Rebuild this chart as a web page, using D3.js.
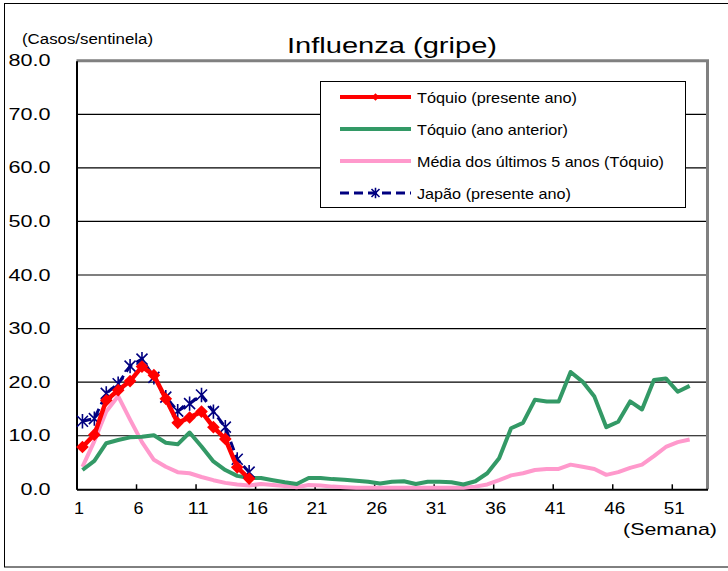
<!DOCTYPE html>
<html><head><meta charset="utf-8">
<script src="https://cdn.jsdelivr.net/npm/d3@7"></script>
<style>
html,body{margin:0;padding:0;background:#fff;}
text{font-family:"Liberation Sans",Arial,sans-serif;fill:#000;}
</style></head>
<body>
<svg id="chart" width="728" height="571"></svg>
<script>
// ---- data ----
const weeks = d3.range(1, 53);
const tickWeeks = [1, 6, 11, 16, 21, 26, 31, 36, 41, 46, 51];
const yTicks = [0, 10, 20, 30, 40, 50, 60, 70, 80];
const seriesNames = ["Tóquio (presente ano)", "Tóquio (ano anterior)", "Média dos últimos 5 anos (Tóquio)", "Japão (presente ano)"];
const tokyoCurrent = [7.9, 10.2, 16.6, 18.5, 20.2, 22.9, 21.3, 16.9, 12.4, 13.4, 14.5, 11.6, 9.4, 4.1, 2.0];
const japanCurrent = [12.7, 13.2, 17.9, 19.7, 23.0, 24.3, 20.9, 17.2, 14.6, 16.0, 17.6, 14.5, 11.6, 5.6, 3.2];
const tokyoPrev = [3.6, 5.3, 8.6, 9.2, 9.7, 9.8, 10.1, 8.7, 8.4, 10.6, 8.0, 5.2, 3.6, 2.5, 2.1, 2.1, 1.7, 1.3, 1.0, 2.1,
  2.1, 1.9, 1.8, 1.6, 1.4, 1.1, 1.4, 1.5, 1.0, 1.4, 1.4, 1.3, 0.9, 1.5, 3.0, 5.8, 11.4, 12.4, 16.7, 16.4,
  16.4, 21.9, 20.1, 17.3, 11.6, 12.6, 16.4, 14.9, 20.4, 20.7, 18.2, 19.3];
const avg5y = [4.2, 9.0, 14.5, 17.4, 13.0, 8.8, 5.5, 4.2, 3.2, 3.0, 2.3, 1.7, 1.2, 0.9, 0.7, 1.0, 0.8, 0.6, 0.4, 0.8,
  0.7, 0.5, 0.4, 0.3, 0.3, 0.3, 0.3, 0.3, 0.3, 0.3, 0.3, 0.3, 0.3, 0.5, 0.9, 1.7, 2.6, 3.0, 3.6, 3.8,
  3.8, 4.6, 4.2, 3.8, 2.7, 3.2, 4.0, 4.6, 6.2, 7.9, 8.8, 9.3];

// ---- layout ----
const svg = d3.select("#chart");
const L = 76.5, R = 707.5, T = 60.7, B = 489.3;
const x = d3.scaleLinear().domain([0.5, 53.5]).range([L, R]);
const y = d3.scaleLinear().domain([0, 80]).range([B, T]);

function fitText(sel, w) {
  sel.attr("textLength", w).attr("lengthAdjust", "spacingAndGlyphs");
}

// outer border
svg.append("rect").attr("x", 4.5).attr("y", 3.5).attr("width", 760).attr("height", 563.5)
  .attr("fill", "none").attr("stroke", "#000").attr("stroke-width", 1);

// gridlines
svg.append("g").selectAll("line").data(yTicks.filter(d => d > 0 && d < 80)).join("line")
  .attr("x1", L).attr("x2", R).attr("y1", d => y(d)).attr("y2", d => y(d))
  .attr("stroke", "#000").attr("stroke-width", 1.2);

// frame top/right (gray)
svg.append("path").attr("d", `M${L},${T}H${R}V${B}`).attr("fill", "none")
  .attr("stroke", "#808080").attr("stroke-width", 3);

// y axis
const yAxis = svg.append("g").attr("transform", `translate(${L},0)`)
  .call(d3.axisLeft(y).tickValues(yTicks).tickSize(0).tickPadding(26).tickFormat(d3.format(".1f")));
yAxis.select(".domain").attr("stroke", "#000").attr("stroke-width", 2);
yAxis.selectAll("text").attr("font-size", 16).attr("font-family", "Liberation Sans, Arial")
  .each(function(d) { fitText(d3.select(this), d === 0 ? 30 : 42); });

// x axis
const xAxis = svg.append("g").attr("transform", `translate(0,${B})`)
  .call(d3.axisBottom(x).tickValues(tickWeeks.map(w => w - 0.5)).tickSizeInner(-5).tickSizeOuter(0)
    .tickPadding(20).tickFormat(d => String(d + 0.5)));
xAxis.select(".domain").attr("stroke", "#000").attr("stroke-width", 2);
xAxis.selectAll(".tick line").attr("stroke", "#000").attr("stroke-width", 1.5);
xAxis.selectAll("text").attr("font-size", 16).attr("font-family", "Liberation Sans, Arial")
  .attr("dy", "0.3em").attr("x", 2)
  .each(function(d) { fitText(d3.select(this), String(d + 0.5).length > 1 ? 21 : 10); });

// series lines
const line = d3.line().defined(d => d[1] != null).x(d => x(d[0])).y(d => y(d[1]));
const toPts = arr => arr.map((v, i) => [weeks[i], v]);

svg.append("path").datum(toPts(avg5y)).attr("d", line).attr("fill", "none")
  .attr("stroke", "#FF99CC").attr("stroke-width", 4).attr("stroke-linejoin", "round");
svg.append("path").datum(toPts(tokyoPrev)).attr("d", line).attr("fill", "none")
  .attr("stroke", "#339966").attr("stroke-width", 4).attr("stroke-linejoin", "round");
svg.append("path").datum(toPts(japanCurrent)).attr("d", line).attr("fill", "none")
  .attr("stroke", "#000080").attr("stroke-width", 3).attr("stroke-dasharray", "9,5");

const starPath = s => `M${-s},${-s}L${s},${s}M${-s},${s}L${s},${-s}M0,${-s * 1.3}L0,${s * 1.3}`;
svg.append("g").selectAll("path").data(toPts(japanCurrent)).join("path")
  .attr("transform", d => `translate(${x(d[0])},${y(d[1])})`)
  .attr("d", starPath(5.5)).attr("stroke", "#000080").attr("stroke-width", 1.6).attr("fill", "none");

svg.append("path").datum(toPts(tokyoCurrent)).attr("d", line).attr("fill", "none")
  .attr("stroke", "#FF0000").attr("stroke-width", 4.5).attr("stroke-linejoin", "round");
const diamond = d3.symbol(d3.symbolSquare, 80)();
svg.append("g").selectAll("path").data(toPts(tokyoCurrent)).join("path")
  .attr("transform", d => `translate(${x(d[0])},${y(d[1])}) rotate(45)`)
  .attr("d", diamond).attr("fill", "#FF0000");

// title & axis titles
svg.append("text").attr("x", 392).attr("y", 53).attr("text-anchor", "middle").attr("font-size", 22)
  .text("Influenza (gripe)").call(fitText, 210);
svg.append("text").attr("x", 22).attr("y", 44).attr("font-size", 15.5)
  .text("(Casos/sentinela)").call(fitText, 131);
svg.append("text").attr("x", 623).attr("y", 535).attr("font-size", 17)
  .text("(Semana)").call(fitText, 94);

// legend
const lg = svg.append("g");
lg.append("rect").attr("x", 320.5).attr("y", 81.5).attr("width", 365).attr("height", 126)
  .attr("fill", "#fff").attr("stroke", "#000").attr("stroke-width", 1);
const rowY = [97, 129, 161, 193];
const textW = [160, 151, 247, 154];
const sx1 = 340, sx2 = 411, smid = (sx1 + sx2) / 2;
// red
lg.append("line").attr("x1", sx1).attr("x2", sx2).attr("y1", rowY[0]).attr("y2", rowY[0])
  .attr("stroke", "#FF0000").attr("stroke-width", 4);
lg.append("path").attr("transform", `translate(${smid},${rowY[0]}) rotate(45)`)
  .attr("d", d3.symbol(d3.symbolSquare, 30)()).attr("fill", "#FF0000");
// green
lg.append("line").attr("x1", sx1).attr("x2", sx2).attr("y1", rowY[1]).attr("y2", rowY[1])
  .attr("stroke", "#339966").attr("stroke-width", 4);
// pink
lg.append("line").attr("x1", sx1).attr("x2", sx2).attr("y1", rowY[2]).attr("y2", rowY[2])
  .attr("stroke", "#FF99CC").attr("stroke-width", 4);
// navy dashed
lg.append("line").attr("x1", sx1).attr("x2", sx2).attr("y1", rowY[3]).attr("y2", rowY[3])
  .attr("stroke", "#000080").attr("stroke-width", 3).attr("stroke-dasharray", "9,5");
lg.append("path").attr("transform", `translate(${smid},${rowY[3]})`)
  .attr("d", starPath(4)).attr("stroke", "#000080").attr("stroke-width", 1.6).attr("fill", "none");

lg.selectAll("text.lt").data(seriesNames).join("text").attr("class", "lt")
  .attr("x", 417).attr("y", (d, i) => rowY[i] + 5.5).attr("font-size", 15)
  .text(d => d).each(function(d, i) { fitText(d3.select(this), textW[i]); });
</script>
</body></html>
